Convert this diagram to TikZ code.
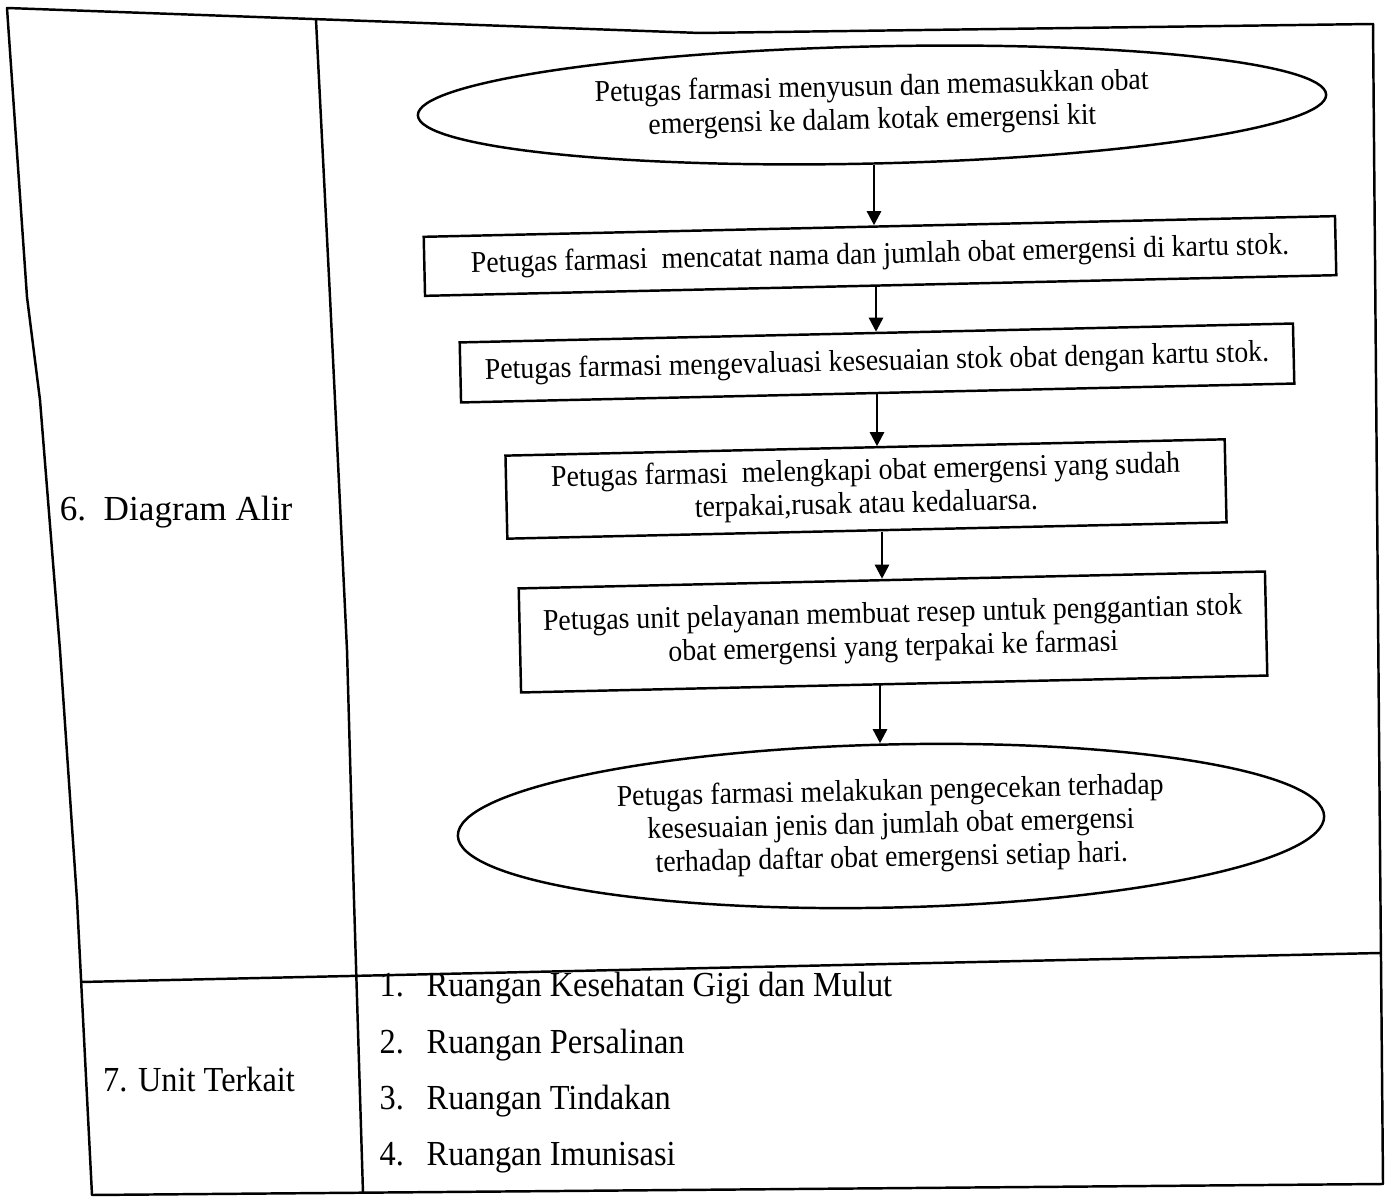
\documentclass[tikz,border=0pt]{standalone}
\usepackage{fontspec}
\setmainfont{Liberation Serif}
\newfontfamily\sempit{Liberation Serif}[FakeStretch=0.92]
\usetikzlibrary{arrows.meta}
\usetikzlibrary{shapes.geometric}
\usetikzlibrary{positioning}
\tikzset{garis/.style = {line width = 0.7pt, line join = round}}
\tikzset{kotak/.style = {draw, line width = 0.7pt, rotate = 1.3, align = center, inner sep = 0, font = \sempit\fontsize{8.6}{9.5}\selectfont}}
\tikzset{elips/.style = {kotak, ellipse}}
\tikzset{teks/.style = {inner sep = 0, font = \sempit\fontsize{10}{12}\selectfont}}
\tikzset{panah/.style = {-{Triangle[length = 4pt, width = 4pt]}, line width = 0.7pt}}

\begin{document}
\begin{tikzpicture}[x = 0.01cm, y = -0.01cm]
    \useasboundingbox (0, 0) rectangle (1391, 1198);

    \draw [garis] (7, 8) -- (700, 33) -- (1373, 24) -- (1380, 850) -- (1383, 1184) -- (92, 1195) -- (77, 900) -- (60, 650) -- (40, 400) -- (27, 297) -- cycle;
    \draw [garis] (316, 20) -- (330, 297) -- (335, 400) -- (347, 650) -- (354, 900) -- (363, 1193);
    \draw [garis] (81, 982) -- (1380, 953);

    \node [inner sep = 0] (diagram) at (176, 512) {6.\ \ Diagram Alir};
    \node [teks] (unit) at (199, 1080) {7. Unit Terkait};

    \node [elips, minimum width = 9.08cm, minimum height = 1.17cm] (mulai) at (872, 105) {Petugas farmasi menyusun dan memasukkan obat\\emergensi ke dalam kotak emergensi kit};
    \node [kotak, minimum width = 9.11cm, minimum height = 0.59cm] (catat) at (880, 256) {Petugas farmasi\ \ mencatat nama dan jumlah obat emergensi di kartu stok.};
    \node [kotak, minimum width = 8.33cm, minimum height = 0.6cm] (evaluasi) at (877, 363) {Petugas farmasi mengevaluasi kesesuaian stok obat dengan kartu stok.};
    \node [kotak, minimum width = 7.19cm, minimum height = 0.83cm] (lengkapi) at (866, 489) {Petugas farmasi\ \ melengkapi obat emergensi yang sudah\\terpakai,rusak atau kedaluarsa.};
    \node [kotak, minimum width = 7.46cm, minimum height = 1.04cm] (resep) at (893, 632) {Petugas unit pelayanan membuat resep untuk penggantian stok\\obat emergensi yang terpakai ke farmasi};
    \node [elips, minimum width = 8.66cm, minimum height = 1.63cm] (cek) at (891, 826) {Petugas farmasi melakukan pengecekan terhadap\\kesesuaian jenis dan jumlah obat emergensi\\terhadap daftar obat emergensi setiap hari.};

    \foreach \dari/\ke/\xp in {mulai/catat/874, catat/evaluasi/876, evaluasi/lengkapi/877, lengkapi/resep/882, resep/cek/880}
        \draw [panah] (\xp, 0 |- \dari.south) -- (\xp, 0 |- \ke.north);

    \foreach \n/\ruang/\yp in {1/Kesehatan Gigi dan Mulut/996, 2/Persalinan/1053, 3/Tindakan/1109, 4/Imunisasi/1165} {
        \node [teks, anchor = base west] (no\n) at (379, \yp) {\n.};
        \node [teks, anchor = base west] (ruang\n) at (426, \yp) {Ruangan \ruang};
    }

\end{tikzpicture}
\end{document}
